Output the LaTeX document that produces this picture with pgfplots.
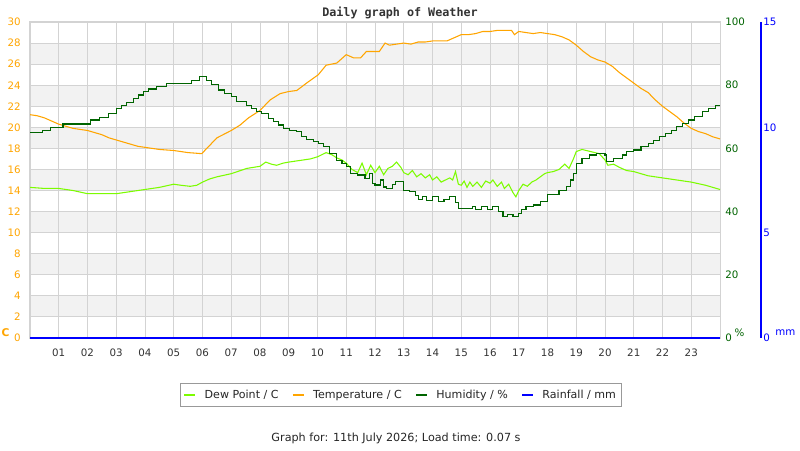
\documentclass[border=0pt]{standalone}
\usepackage{fontspec}
\setmainfont{DejaVu Sans}
\newfontfamily\titlefont{DejaVu Sans Mono}
\usepackage{pgfplots}
\pgfplotsset{compat=1.18}

\definecolor{tempc}{HTML}{FFA500}
\definecolor{dewc}{HTML}{7CFC00}
\definecolor{humc}{HTML}{006400}
\definecolor{rainc}{HTML}{0000FF}
\definecolor{gridc}{HTML}{D3D3D3}
\definecolor{bandc}{HTML}{F2F2F2}
\definecolor{txtc}{HTML}{333333}

\begin{document}
\begin{tikzpicture}
\fill[white] (0,0) rectangle (600pt,337.5pt);
\path[use as bounding box] (0,0) rectangle (600pt,337.5pt);
% alternating background bands
\foreach \v in {2,6,...,26}
  \fill[bandc] (22.5pt,{(84+7.9*\v)*1pt}) rectangle (540pt,{(84+7.9*(\v+2))*1pt});

\pgfplotsset{
  every axis/.append style={
    at={(22.5pt,84pt)}, anchor=south west, scale only axis,
    width=517.5pt, height=237pt, xmin=0, xmax=24,
    major tick length=0pt,
    /pgf/number format/assume math mode=true,
    tick label style={font=\fontsize{7.7}{9}\selectfont},
  }
}

% temperature / dew point axis
\begin{axis}[
  ymin=0, ymax=30,
  xtick={1,...,23},
  xticklabels={01,02,03,04,05,06,07,08,09,10,11,12,13,14,15,16,17,18,19,20,21,22,23},
  ytick={0,2,...,30},
  grid=major,
  major grid style={gridc, line width=0.75pt},
  axis line style={gridc, line width=0.75pt},
  xticklabel style={txtc, anchor=center, yshift=-11.25pt},
  yticklabel style={tempc, anchor=east, inner sep=0pt, xshift=-6.75pt},
  legend columns=4,
  legend style={at={(axis description cs:0.5377,-0.1804)}, anchor=center,
    draw=gray!80, line width=0.75pt, fill=white,
    font=\fontsize{8.3}{9.5}\selectfont\color{black!85},
    inner xsep=2pt, inner ysep=3pt,
    /tikz/every odd column/.append style={column sep=4.5pt},
    /tikz/every even column/.append style={column sep=8pt}},
  legend image code/.code={\draw[#1, line width=1.5pt] (0cm,0cm) -- (0.28cm,0cm);},
]
\addlegendimage{dewc}
\addlegendentry{Dew Point / C}
\addlegendimage{tempc}
\addlegendentry{Temperature / C}
\addlegendimage{humc}
\addlegendentry{Humidity / \%}
\addlegendimage{rainc}
\addlegendentry{Rainfall / mm}

% dew point
\addplot[dewc, line width=0.8pt] coordinates {
(0,14.3) (0.5,14.2) (1.0,14.2) (1.5,14.0) (2.0,13.7) (2.5,13.7) (3.0,13.7)
(3.5,13.9) (4.0,14.1) (4.5,14.3) (5.0,14.6) (5.25,14.5) (5.57,14.4) (5.8,14.5)
(6.0,14.8) (6.25,15.1) (6.5,15.3) (7.0,15.6) (7.54,16.1) (8.0,16.3) (8.2,16.7)
(8.4,16.5) (8.58,16.4) (8.8,16.6) (9.0,16.7) (9.25,16.8) (9.5,16.9) (9.75,17.0)
(10.0,17.2) (10.3,17.6) (10.5,17.4) (10.67,17.1) (10.85,16.9) (11.0,16.6)
(11.2,16.0) (11.4,15.7) (11.55,16.6) (11.7,15.5) (11.85,16.4) (12.0,15.7)
(12.15,16.3) (12.3,15.5) (12.45,16.1) (12.6,16.3) (12.75,16.7) (12.9,16.2)
(13.0,15.7) (13.15,15.5) (13.3,15.9) (13.45,15.3) (13.6,15.6) (13.75,15.2)
(13.9,15.5) (14.0,15.0) (14.15,15.3) (14.3,14.8) (14.45,15.0) (14.6,15.2)
(14.7,15.0) (14.8,15.8) (14.9,14.6) (15.0,14.5) (15.1,14.9) (15.2,14.3)
(15.3,14.8) (15.4,14.4) (15.55,14.8) (15.7,14.3) (15.85,14.9) (16.0,14.7)
(16.1,15.0) (16.25,14.4) (16.4,14.8) (16.5,14.2) (16.65,14.6) (16.8,13.8)
(16.9,13.4) (17.0,14.0) (17.15,14.6) (17.3,14.4) (17.45,14.8) (17.6,15.0)
(17.75,15.3) (17.9,15.6) (18.0,15.7) (18.2,15.8) (18.4,16.0) (18.6,16.5)
(18.75,16.1) (18.9,17.0) (19.0,17.7) (19.2,17.9) (19.5,17.7) (19.8,17.5)
(20.0,16.9) (20.1,16.4) (20.3,16.5) (20.5,16.2) (20.75,15.9) (21.0,15.8)
(21.25,15.6) (21.5,15.4) (21.75,15.3) (22.0,15.2) (22.5,15.0) (23.0,14.8)
(23.5,14.5) (24.0,14.1)
};
% temperature
\addplot[tempc, line width=0.8pt] coordinates {
(0,21.2) (0.25,21.1) (0.5,20.9) (0.75,20.6) (1.0,20.3) (1.25,20.1) (1.5,19.9)
(1.75,19.8) (2.0,19.7) (2.25,19.5) (2.5,19.3) (2.75,19.0) (3.0,18.8) (3.25,18.6)
(3.5,18.4) (3.75,18.2) (4.0,18.1) (4.25,18.0) (4.5,17.9) (4.75,17.85) (5.0,17.8)
(5.25,17.7) (5.5,17.6) (5.75,17.55) (5.97,17.5) (6.15,18.0) (6.5,19.0)
(7.0,19.7) (7.3,20.2) (7.6,20.9) (8.0,21.6) (8.35,22.6) (8.7,23.2) (9.0,23.4)
(9.28,23.5) (9.62,24.2) (10.03,25.0) (10.3,25.9) (10.67,26.1) (11.0,26.9)
(11.25,26.6) (11.5,26.6) (11.7,27.2) (12.0,27.2) (12.15,27.2) (12.35,28.0)
(12.5,27.8) (12.75,27.9) (13.0,28.0) (13.25,27.9) (13.5,28.1) (13.75,28.1)
(14.0,28.2) (14.25,28.2) (14.5,28.2) (14.75,28.5) (15.0,28.8) (15.25,28.8)
(15.5,28.9) (15.75,29.1) (16.0,29.1) (16.25,29.2) (16.5,29.2) (16.75,29.2)
(16.85,28.8) (17.0,29.1) (17.25,29.0) (17.5,28.9) (17.75,29.0) (18.0,28.9)
(18.25,28.8) (18.5,28.6) (18.75,28.3) (19.0,27.8) (19.25,27.2) (19.5,26.7)
(19.75,26.4) (20.0,26.2) (20.25,25.8) (20.5,25.2) (20.75,24.7) (21.0,24.2)
(21.25,23.7) (21.5,23.3) (21.75,22.6) (22.0,22.0) (22.25,21.5) (22.5,21.0)
(22.75,20.4) (23.0,19.9) (23.25,19.6) (23.5,19.4) (23.75,19.1) (24.0,18.9)
};
\end{axis}

% humidity axis
\begin{axis}[
  ymin=0, ymax=100,
  axis x line=none,
  axis y line*=right,
  y axis line style={draw=none},
  ytick={0,20,...,100},
  yticklabel style={humc, anchor=west, inner sep=0pt, xshift=3.75pt},
]
\addplot[humc, line width=0.85pt, const plot] coordinates {
(0,65.0) (0.42,65.7) (0.7,66.7) (1.15,67.7) (2.09,69.0) (2.43,69.8) (2.72,71.1)
(3.01,72.7) (3.19,73.6) (3.36,74.6) (3.59,75.8) (3.77,76.9) (3.94,77.9)
(4.12,78.8) (4.41,79.7) (4.75,80.6) (5.62,81.6) (5.91,82.7) (6.15,81.6)
(6.32,80.1) (6.55,78.5) (6.78,77.4) (7.01,76.4) (7.19,74.8) (7.54,73.7)
(7.71,72.7) (7.88,71.6) (8.06,71.1) (8.29,69.5) (8.46,68.4) (8.64,67.4)
(8.81,66.4) (9.04,65.8) (9.28,65.3) (9.45,63.7) (9.62,62.7) (9.86,62.1)
(10.03,61.6) (10.2,60.5) (10.43,58.4) (10.67,56.3) (10.85,55.3) (11.0,54.2)
(11.15,52.1) (11.4,51.6) (11.65,50.5) (11.8,52.0) (11.9,49.0) (12.0,48.4)
(12.2,50.0) (12.3,47.8) (12.4,47.4) (12.6,48.5) (12.7,49.5) (12.85,49.5)
(13.0,46.8) (13.2,46.3) (13.4,45.0) (13.5,43.7) (13.65,44.8) (13.8,43.5)
(14.0,44.7) (14.2,43.1) (14.4,43.8) (14.6,44.7) (14.8,43.0) (14.9,41.0)
(15.2,41.0) (15.4,41.6) (15.5,40.8) (15.7,41.6) (15.9,40.6) (16.1,41.6)
(16.3,40.0) (16.45,38.4) (16.6,39.0) (16.8,38.4) (17.0,39.5) (17.1,40.6)
(17.25,41.6) (17.5,42.1) (17.75,43.1) (18.0,45.3) (18.4,46.8) (18.65,47.9)
(18.8,50.0) (18.9,52.1) (19.0,55.3) (19.2,56.9) (19.45,57.9) (19.7,58.4)
(20.0,57.9) (20.05,55.8) (20.3,56.9) (20.6,57.9) (20.75,59.0) (21.0,59.5)
(21.25,60.5) (21.5,61.5) (21.7,62.6) (21.9,63.7) (22.1,64.7) (22.3,65.8)
(22.5,66.8) (22.7,67.9) (22.9,69.0) (23.1,70.0) (23.4,71.6) (23.6,72.7)
(23.85,73.5) (24,73.5)
};
\end{axis}

% rainfall axis
\begin{axis}[
  ymin=0, ymax=15,
  axis x line=none,
  axis y line*=right,
  clip=false,
  y axis line style={rainc, line width=0.8pt, xshift=30.75pt, -},
  ytick={0,5,10,15},
  yticklabel style={rainc, anchor=west, inner sep=0pt, xshift=32.25pt},
]
\addplot[rainc, line width=0.9pt] coordinates {(0,0) (6,0) (12,0) (18,0) (24,0)};
\end{axis}

% unit labels, title and footer
\node[tempc, font=\fontsize{8}{9}\selectfont\bfseries] at (4.1pt,87.75pt) {C};
\node[humc, font=\fontsize{7.7}{9}\selectfont] at (554.6pt,87.75pt) {\%};
\node[rainc, font=\fontsize{7.7}{9}\selectfont] at (589.1pt,87.75pt) {mm};
\node[txtc, font=\titlefont\bfseries\fontsize{8.8}{10}\selectfont] at (300pt,327.75pt) {Daily graph of Weather};
\node[black!85, font=\fontsize{8.4}{10}\selectfont] at (297pt,9pt) {Graph for: 11th July 2026; Load time: 0.07 s};
\end{tikzpicture}
\end{document}
